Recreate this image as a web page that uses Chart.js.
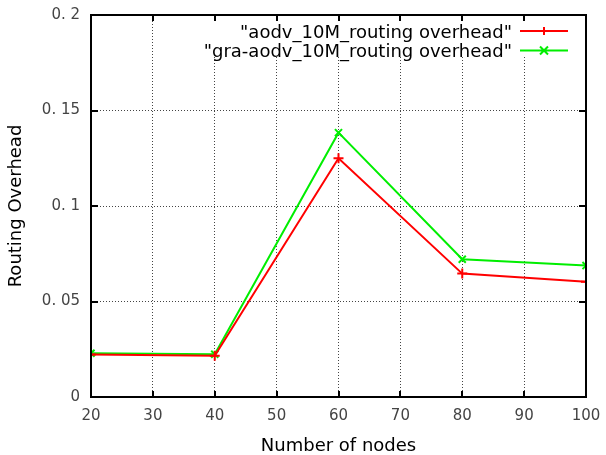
<!DOCTYPE html>
<html>
<head>
<meta charset="utf-8">
<script src="https://cdn.jsdelivr.net/npm/chart.js@4/dist/chart.umd.min.js"></script>
<style>
  html, body { margin: 0; padding: 0; background: #fff; }
  #wrap { width: 606px; height: 455px; }
</style>
</head>
<body>
<div id="wrap"><canvas id="chart1"></canvas></div>
<script>
'use strict';
// data
var nodes = [20, 40, 60, 80, 100];
var aodv = [0.0222, 0.0216, 0.125, 0.0646, 0.0604];
var graAodv = [0.0229, 0.0224, 0.1384, 0.0721, 0.0688];
var seriesLabels = ['"aodv_10M_routing overhead"', '"gra-aodv_10M_routing overhead"'];
var xTickLabels = ['20', '30', '40', '50', '60', '70', '80', '90', '100'];
var yTickLabels = ['0', '0. 05', '0. 1', '0. 15', '0. 2'];

var FONT = 'DejaVu Sans';

var toPoints = function (ys) {
	return nodes.map(function (n, i) { return { x: n, y: ys[i] }; });
};

// gnuplot style border, inward ticks and key
var gnuplotFrame = {
	id: 'gnuplotFrame',
	beforeDatasetsDraw: function (chart) {
		var ctx = chart.ctx;
		ctx.save();
		ctx.fillStyle = '#fff';
		ctx.fillRect(196, 21, 384, 36);
		ctx.restore();
	},
	afterDraw: function (chart) {
		var ctx = chart.ctx;
		var a = chart.chartArea;
		var xs = chart.scales.x, ys = chart.scales.y;
		ctx.save();
		ctx.strokeStyle = '#000';
		ctx.lineWidth = 2;
		ctx.beginPath();
		xs.ticks.forEach(function (t) {
			var px = Math.round(xs.getPixelForValue(t.value));
			ctx.moveTo(px, a.bottom); ctx.lineTo(px, a.bottom - 6);
			ctx.moveTo(px, a.top); ctx.lineTo(px, a.top + 6);
		});
		ys.ticks.forEach(function (t) {
			var py = Math.round(ys.getPixelForValue(t.value));
			ctx.moveTo(a.left, py); ctx.lineTo(a.left + 7, py);
			ctx.moveTo(a.right, py); ctx.lineTo(a.right - 7, py);
		});
		ctx.stroke();
		ctx.strokeRect(a.left, a.top, a.right - a.left, a.bottom - a.top);

		// key
		ctx.font = '18px "' + FONT + '"';
		ctx.textAlign = 'right';
		ctx.textBaseline = 'middle';
		ctx.fillStyle = '#000';
		chart.data.datasets.forEach(function (ds, i) {
			var y = 31 + i * 19.5;
			ctx.fillText(ds.label, 512, y + 2);
			ctx.strokeStyle = ds.borderColor;
			ctx.lineWidth = 2;
			ctx.beginPath();
			ctx.moveTo(520, y); ctx.lineTo(568, y);
			var r = 4;
			if (ds.pointStyle === 'cross') {
				ctx.moveTo(544 - r, y); ctx.lineTo(544 + r, y);
				ctx.moveTo(544, y - r); ctx.lineTo(544, y + r);
			} else {
				ctx.moveTo(544 - r, y - r); ctx.lineTo(544 + r, y + r);
				ctx.moveTo(544 - r, y + r); ctx.lineTo(544 + r, y - r);
			}
			ctx.stroke();
		});
		ctx.restore();
	}
};

var ctx = document.getElementById('chart1');
var myChart = new Chart(ctx, {
	type: 'line',
	data: {
		datasets: [{
			label: seriesLabels[0],
			data: toPoints(aodv),
			borderColor: '#ff0000',
			backgroundColor: '#ff0000',
			borderWidth: 2,
			pointStyle: 'cross',
			pointRadius: 5,
			pointBorderWidth: 2,
			tension: 0
		}, {
			label: seriesLabels[1],
			data: toPoints(graAodv),
			borderColor: '#00ee00',
			backgroundColor: '#00ee00',
			borderWidth: 2,
			pointStyle: 'crossRot',
			pointRadius: 5,
			pointBorderWidth: 2,
			tension: 0
		}]
	},
	options: {
		responsive: true,
		maintainAspectRatio: false,
		animation: false,
		layout: { padding: { left: 0, top: 15, right: 20, bottom: 0 } },
		plugins: {
			legend: { display: false },
			tooltip: { enabled: false }
		},
		scales: {
			x: {
				type: 'linear',
				min: 20,
				max: 100,
				afterFit: function (s) {
					s.height = 58;
					s.paddingLeft = 0;
					s.paddingRight = 0;
				},
				ticks: {
					stepSize: 10,
					padding: 10,
					color: '#444',
					font: { family: FONT, size: 15 },
					callback: function (v, i) { return xTickLabels[i]; }
				},
				grid: {
					drawTicks: false,
					color: '#444',
					lineWidth: 1
				},
				border: { display: false, dash: [1, 2] },
				title: {
					display: true,
					text: 'Number of nodes',
					color: '#000',
					font: { family: FONT, size: 18 },
					padding: { top: 0, bottom: -2 }
				}
			},
			y: {
				min: 0,
				max: 0.2,
				afterFit: function (s) {
					s.width = 91;
					s.paddingTop = 0;
					s.paddingBottom = 0;
				},
				ticks: {
					stepSize: 0.05,
					padding: 11,
					color: '#444',
					font: { family: FONT, size: 15 },
					callback: function (v, i) { return yTickLabels[i]; }
				},
				grid: {
					drawTicks: false,
					color: '#444',
					lineWidth: 1
				},
				border: { display: false, dash: [1, 2] },
				title: {
					display: true,
					text: 'Routing Overhead',
					color: '#000',
					font: { family: FONT, size: 18 },
					padding: { top: 6, bottom: 0 }
				}
			}
		}
	},
	plugins: [gnuplotFrame]
});
</script>
</body>
</html>
